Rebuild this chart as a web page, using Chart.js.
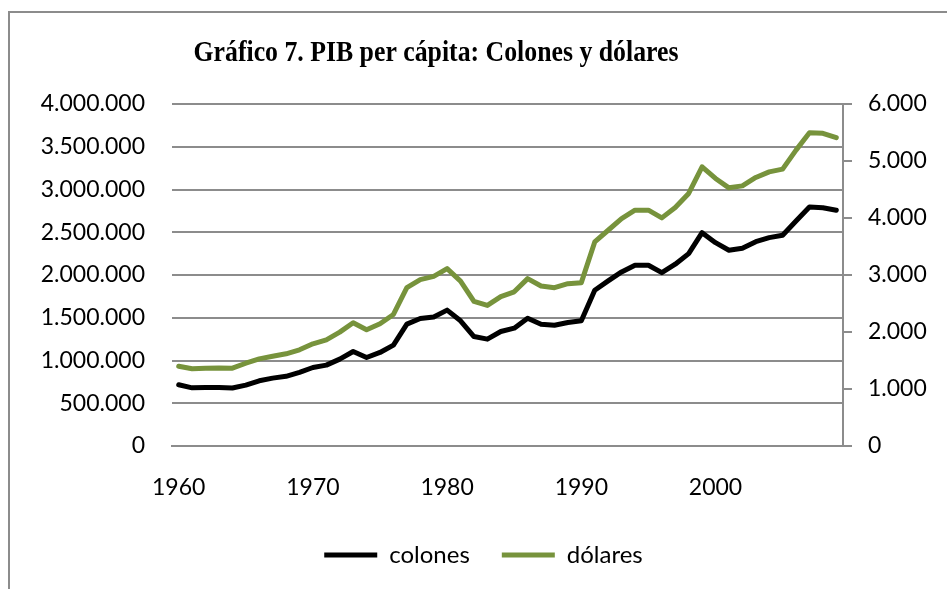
<!DOCTYPE html>
<html>
<head>
<meta charset="utf-8">
<script src="https://cdn.jsdelivr.net/npm/chart.js@4.4.1/dist/chart.umd.min.js"></script>
<style>
  html, body { margin: 0; padding: 0; background: #fff; overflow: hidden; }
  .marco { position: absolute; left: 8px; top: 11px; width: 2000px; height: 2000px; border: 2px solid #8c8c8c; }
  .lienzo { position: absolute; left: 0; top: 0; width: 947px; height: 589px; }
</style>
</head>
<body>
<div class="marco"></div>
<div class="lienzo"><canvas id="myChart" width="947" height="589"></canvas></div>
<script>
// Datos del gráfico
var anios = [];
for (var a = 1960; a <= 2009; a++) anios.push(String(a));

var colones = [
  716000, 680000, 685000, 685000, 678000, 712000, 763000, 794000, 815000, 860000,
  918000, 946000, 1016000, 1105000, 1035000, 1094000, 1180000, 1425000, 1491000, 1510000,
  1589000, 1464000, 1280000, 1250000, 1339000, 1378000, 1495000, 1425000, 1413000, 1444000,
  1464000, 1822000, 1931000, 2036000, 2114000, 2114000, 2028000, 2126000, 2250000, 2495000,
  2378000, 2290000, 2313000, 2390000, 2437000, 2465000, 2632000, 2795000, 2787000, 2757000
];

var dolares = [
  1400, 1354, 1365, 1370, 1365, 1452, 1529, 1575, 1617, 1688,
  1793, 1863, 1997, 2162, 2039, 2145, 2308, 2777, 2918, 2976,
  3111, 2894, 2537, 2466, 2620, 2705, 2936, 2806, 2777, 2848,
  2866, 3580, 3785, 3991, 4137, 4137, 4002, 4184, 4430, 4898,
  4694, 4529, 4564, 4711, 4810, 4857, 5191, 5496, 5485, 5408
];

var etiquetasAnio = ['1960', '1970', '1980', '1990', '2000'];

var titulo = 'Gráfico 7. PIB per cápita: Colones y dólares';

function puntos(v) {
  return String(v).replace(/\B(?=(\d{3})+(?!\d))/g, '.');
}

var gris = '#8c8c8c';
var fuente = { family: 'Lato', size: 23 };

// Título dibujado sobre el lienzo, ajustado al ancho del original
var pluginTitulo = {
  id: 'tituloGrafico',
  afterDraw: function (chart) {
    var ctx = chart.ctx;
    ctx.save();
    ctx.font = 'bold 29px "Liberation Serif", serif';
    var ancho = ctx.measureText(titulo).width;
    var esc = Math.min(1, 485 / ancho);
    ctx.fillStyle = '#000';
    ctx.textAlign = 'center';
    ctx.textBaseline = 'alphabetic';
    ctx.translate(436, 61);
    ctx.scale(esc, 1);
    ctx.fillText(titulo, 0, 0);
    ctx.restore();
  }
};

function inicializarGrafico() {
  var ctx = document.getElementById('myChart').getContext('2d');
  new Chart(ctx, {
    type: 'line',
    data: {
      labels: anios,
      datasets: [{
        label: 'colones',
        data: colones,
        yAxisID: 'y',
        borderColor: '#000000',
        backgroundColor: '#000000',
        borderWidth: 5,
        borderCapStyle: 'round',
        borderJoinStyle: 'round',
        pointRadius: 0,
        tension: 0
      }, {
        label: 'dólares',
        data: dolares,
        yAxisID: 'y1',
        borderColor: '#77933c',
        backgroundColor: '#77933c',
        borderWidth: 5,
        borderCapStyle: 'round',
        borderJoinStyle: 'round',
        pointRadius: 0,
        tension: 0
      }]
    },
    options: {
      responsive: false,
      animation: false,
      layout: { padding: { top: 104, left: 20, right: 0, bottom: 12 } },
      plugins: {
        title: { display: false },
        tooltip: { enabled: false },
        legend: {
          position: 'bottom',
          labels: {
            usePointStyle: true,
            pointStyle: 'line',
            pointStyleWidth: 53,
            color: '#000',
            font: { family: 'Lato', size: 24 },
            padding: 32
          }
        }
      },
      scales: {
        x: {
          offset: true,
          grid: { display: false },
          border: { display: true, color: gris, width: 2 },
          ticks: {
            autoSkip: false,
            maxRotation: 0,
            color: '#000',
            font: fuente,
            padding: 20,
            callback: function (val, i) {
              var l = anios[i];
              return etiquetasAnio.indexOf(l) >= 0 ? l : '';
            }
          },
          afterFit: function (s) { s.height = 65; }
        },
        y: {
          position: 'left',
          min: 0,
          max: 4000000,
          border: { display: false },
          grid: { color: gris, lineWidth: 2, drawTicks: false },
          ticks: {
            stepSize: 500000,
            color: '#000',
            font: fuente,
            padding: 27,
            callback: function (v) { return puntos(v); }
          },
          afterFit: function (s) { s.width = 152; }
        },
        y1: {
          position: 'right',
          min: 0,
          max: 6000,
          border: { display: true, color: gris, width: 2 },
          grid: { drawOnChartArea: false, drawTicks: true, tickLength: 9, color: gris, lineWidth: 2 },
          ticks: {
            stepSize: 1000,
            color: '#000',
            font: fuente,
            padding: 16,
            callback: function (v) { return puntos(v); }
          },
          afterFit: function (s) { s.width = 104; }
        }
      }
    },
    plugins: [pluginTitulo]
  });
}

inicializarGrafico();
</script>
</body>
</html>
